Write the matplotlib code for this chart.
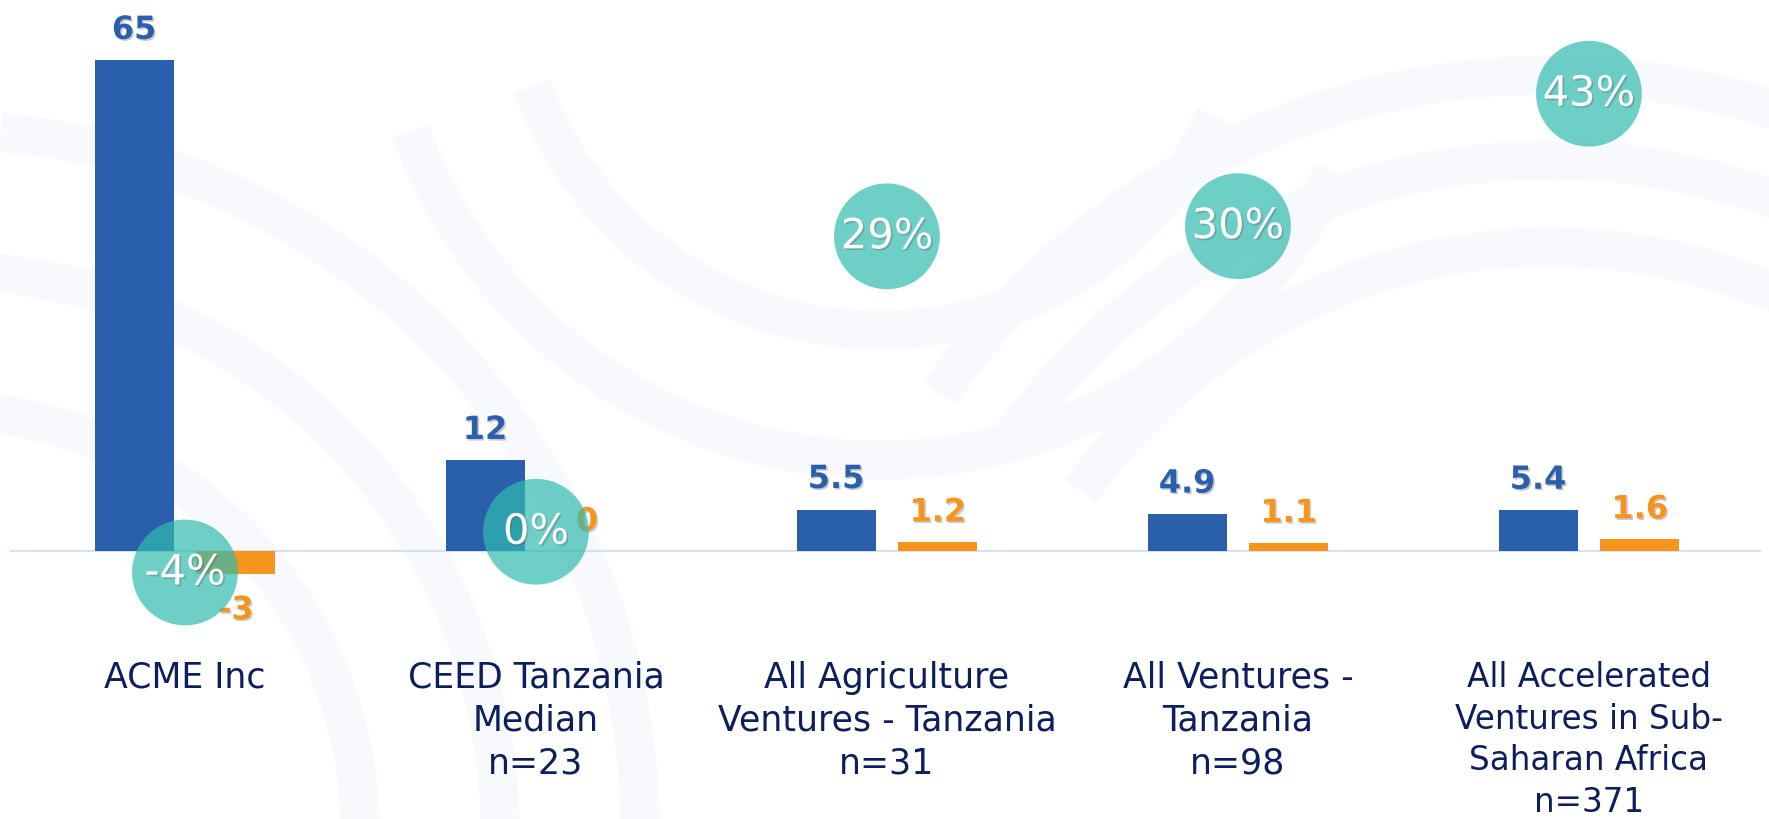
import matplotlib
matplotlib.use("Agg")
import matplotlib.pyplot as plt
from matplotlib import patheffects as pe
from matplotlib.patches import Arc

# chart data
categories = ["ACME Inc",
              "CEED Tanzania\nMedian\nn=23",
              "All Agriculture\nVentures - Tanzania\nn=31",
              "All Ventures -\nTanzania\nn=98",
              "All Accelerated\nVentures in Sub-\nSaharan Africa\nn=371"]
blue_vals = [65, 12, 5.5, 4.9, 5.4]
orange_vals = [-3, 0, 1.2, 1.1, 1.6]
growth_pct = [-4, 0, 29, 30, 43]

BLUE = "#2A5FAC"
ORANGE = "#F7941D"
TEAL = "#30BBAF"
NAVY = "#0C1E5B"

W, H = 1769, 819
fig = plt.figure(figsize=(W / 100, H / 100), dpi=100)

# faint background arcs (decoration only), in pixel coords, y pointing down
bg = fig.add_axes([0, 0, 1, 1], zorder=0)
bg.set_xlim(0, W)
bg.set_ylim(H, 0)
bg.axis("off")
decor = [((-60, 830), 700, 275, 360), ((-60, 830), 560, 275, 360), ((-60, 830), 420, 275, 360),
         ((880, -40), 370, 25, 160), ((880, -40), 500, 25, 160),
         ((1550, 820), 573, 215, 340), ((1550, 820), 660, 215, 340), ((1550, 820), 745, 215, 340)]
for (cx, cy), r, t1, t2 in decor:
    bg.add_patch(Arc((cx, cy), 2 * r, 2 * r, theta1=t1, theta2=t2,
                     color="#F8F9FC", lw=28, zorder=0))

ax = fig.add_axes([0, 0, 1, 1], zorder=1)
ax.patch.set_visible(False)
ax2 = ax.twinx()
ax2.set_zorder(2)
ax2.patch.set_visible(False)

x = list(range(len(categories)))
bw = 0.225
off = 0.145

ax.bar([i - off for i in x], blue_vals, width=bw, color=BLUE, zorder=2)
ax.bar([i + off for i in x], orange_vals, width=bw, color=ORANGE, zorder=2)
ax.axhline(0, xmin=0.006, xmax=0.995, color="#D5E1F2", lw=1.6, zorder=1)

shadow = [pe.withSimplePatchShadow(offset=(1.2, -1.2), shadow_rgbFace="#555555", alpha=0.3)]

for i, (b, o) in enumerate(zip(blue_vals, orange_vals)):
    kw = dict(ha="center", va="center", fontsize=23, fontweight="bold",
              textcoords="offset points", path_effects=shadow)
    ax.annotate(f"{b:g}", (i - off, b), xytext=(0, 21.6), color=BLUE, **kw)
    dy = 21 if o >= 0 else -26.6
    ax.annotate(f"{o:g}", (i + off, o), xytext=(0, dy), color=ORANGE, **kw)

for i, p in enumerate(growth_pct):
    ax2.scatter(i, p, s=5800, color=TEAL, alpha=0.70, edgecolors="none", zorder=3)
    ax2.text(i, p, f"{p}%", ha="center", va="center", color="white",
             fontsize=30, path_effects=shadow, zorder=4)

for i, lab in enumerate(categories):
    ax.text(i, 0.193, lab, transform=ax.get_xaxis_transform(), ha="center", va="top",
            color=NAVY, fontsize=25 if i < 4 else 23.5, linespacing=1.33)

ax.set_xlim(-0.527, 4.513)
ax.set_ylim(-35.5, 73.0)
ax2.set_ylim(-28.2, 52.2)
for a in (ax, ax2):
    a.set_xticks([])
    a.set_yticks([])
    for s in a.spines.values():
        s.set_visible(False)

fig.savefig("out.png", dpi=100)
